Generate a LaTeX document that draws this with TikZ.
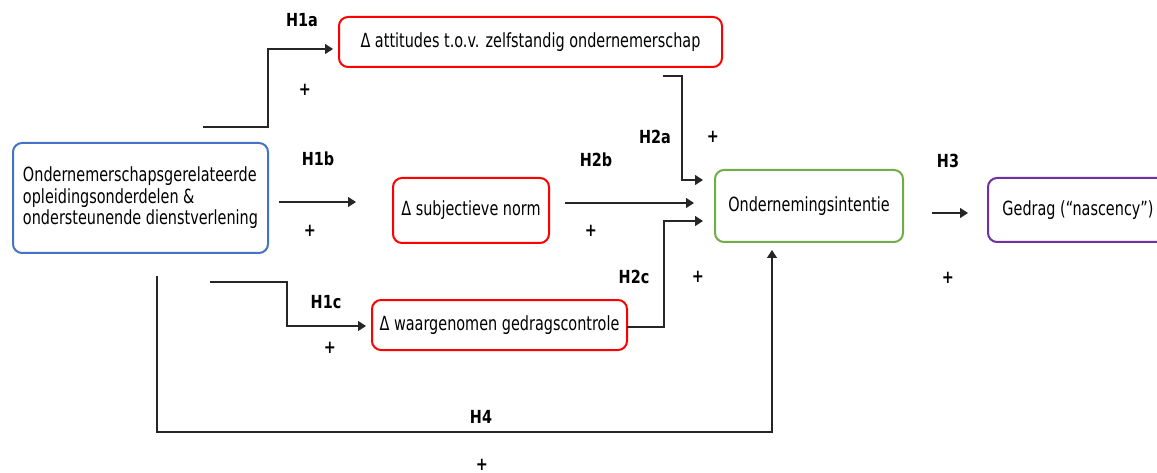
\documentclass[tikz,border=0pt]{standalone}
\usepackage{fontspec}
\setmainfont[FakeStretch=0.74]{DejaVu Sans}
\newfontfamily\lblfont[FakeStretch=0.8]{DejaVu Sans}
\usetikzlibrary{arrows.meta}
\definecolor{cblue}{HTML}{4472C4}
\definecolor{cred}{HTML}{FF0000}
\definecolor{cgreen}{HTML}{70AD47}
\definecolor{cpurple}{HTML}{7030A0}
\begin{document}
\begin{tikzpicture}[x=1pt,y=-1pt,
  box/.style={draw, line width=2pt, rounded corners=9pt, inner sep=0pt, align=center,
    font=\fontsize{19.5}{21.5}\selectfont},
  lbl/.style={inner sep=0pt, font=\lblfont\bfseries\fontsize{18}{20}\selectfont},
  conn/.style={line width=1.1pt, draw=black!85},
  arr/.style={conn, -{Triangle[length=8pt,width=10pt]}}]
\useasboundingbox (0,0) rectangle (1157,473);
% boxes
\node[box, draw=cblue, minimum width=255pt, minimum height=110pt, align=left] (src) at (140.5,198)
  {Ondernemerschapsgerelateerde\\opleidingsonderdelen \&\\ondersteunende dienstverlening};
\node[box, draw=cred, minimum width=383pt, minimum height=50pt] (att) at (530.5,42)
  {Δ attitudes t.o.v. zelfstandig ondernemerschap};
\node[box, draw=cred, minimum width=156pt, minimum height=65pt] (sn) at (471,210.5)
  {Δ subjectieve norm};
\node[box, draw=cred, minimum width=255pt, minimum height=50pt] (pbc) at (499.5,325)
  {Δ waargenomen gedragscontrole};
\node[box, draw=cgreen, minimum width=188pt, minimum height=72pt] (int) at (809,206)
  {Ondernemingsintentie};
\node[box, draw=cpurple, minimum width=180pt, minimum height=64pt] (beh) at (1078,210)
  {Gedrag (“nascency”)};
% coordinates
\coordinate (a0) at (203,127);
\coordinate (a1) at (268,127);
\coordinate (a2) at (268,49);
\coordinate (a3) at (333,49);
\coordinate (b0) at (279,202);
\coordinate (b1) at (356,202);
\coordinate (c0) at (210,282);
\coordinate (c1) at (287,282);
\coordinate (c2) at (287,326);
\coordinate (c3) at (366,326);
\coordinate (d0) at (663,76);
\coordinate (d1) at (682,76);
\coordinate (d2) at (682,180);
\coordinate (d3) at (703,180);
\coordinate (e0) at (565,203);
\coordinate (e1) at (694,203);
\coordinate (f0) at (627,327);
\coordinate (f1) at (664,327);
\coordinate (f2) at (664,221);
\coordinate (f3) at (703,221);
\coordinate (g0) at (932,213);
\coordinate (g1) at (968,213);
\coordinate (h0) at (157,276);
\coordinate (h1) at (157,432);
\coordinate (h2) at (772,432);
\coordinate (h3) at (772,250);
% connectors
\draw[arr] (a0) -- (a1) -- (a2) -- (a3);
\draw[arr] (b0) -- (b1);
\draw[arr] (c0) -- (c1) -- (c2) -- (c3);
\draw[arr] (d0) -- (d1) -- (d2) -- (d3);
\draw[arr] (e0) -- (e1);
\draw[arr] (f0) -- (f1) -- (f2) -- (f3);
\draw[arr] (g0) -- (g1);
\draw[arr] (h0) -- (h1) -- (h2) -- (h3);
% labels
\node[lbl] (l1a) at (302,20) {H1a};
\node[lbl] (p1a) at (305,90) {+};
\node[lbl] (l1b) at (318,159) {H1b};
\node[lbl] (p1b) at (310,231) {+};
\node[lbl] (l1c) at (326,302) {H1c};
\node[lbl] (p1c) at (330,348) {+};
\node[lbl] (l2a) at (655,137) {H2a};
\node[lbl] (p2a) at (713,137) {+};
\node[lbl] (l2b) at (596,160) {H2b};
\node[lbl] (p2b) at (591,231) {+};
\node[lbl] (l2c) at (634,277) {H2c};
\node[lbl] (p2c) at (698,277) {+};
\node[lbl] (l3) at (948,161) {H3};
\node[lbl] (p3) at (948,278) {+};
\node[lbl] (l4) at (481,417) {H4};
\node[lbl] (p4) at (482,465) {+};
\end{tikzpicture}
\end{document}
